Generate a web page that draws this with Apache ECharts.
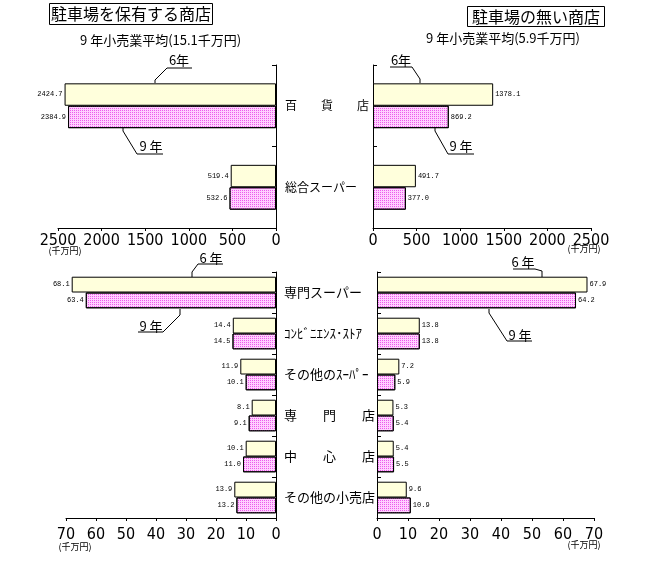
<!DOCTYPE html>
<html lang="ja">
<head>
    <meta charset="utf-8">
    <title>駐車場の有無別 年間販売額</title>
    <script src="https://cdn.jsdelivr.net/npm/echarts@6/dist/echarts.min.js"></script>
    <style type="text/css">
        html, body {
            margin: 0;
            padding: 0;
            background: #ffffff;
        }

        #main {
            width: 650px;
            height: 563px;
        }
    </style>
</head>
<body>
<div id="main"></div>
<script type="text/javascript">
    // 業態（上段：百貨店・総合スーパー / 下段：その他）
    const topCats = ['百　　貨　　店', '総合スーパー'];
    const bottomCats = ['専門スーパー', 'ｺﾝﾋﾞﾆｴﾝｽ･ｽﾄｱ', 'その他のｽｰﾊﾟｰ', '専　　門　　店', '中　　心　　店', 'その他の小売店'];

    // 駐車場を保有する商店（千万円）
    const parkTop6 = [2424.7, 519.4];
    const parkTop9 = [2384.9, 532.6];
    const parkBottom6 = [68.1, 14.4, 11.9, 8.1, 10.1, 13.9];
    const parkBottom9 = [63.4, 14.5, 10.1, 9.1, 11.0, 13.2];

    // 駐車場の無い商店（千万円）
    const noParkTop6 = [1378.1, 491.7];
    const noParkTop9 = [869.2, 377.0];
    const noParkBottom6 = [67.9, 13.8, 7.2, 5.3, 5.4, 9.6];
    const noParkBottom9 = [64.2, 13.8, 5.9, 5.4, 5.5, 10.9];

    const seriesNames = ['6年', '9年'];
    const topTicks = {min: 0, max: 2500, interval: 500};
    const bottomTicks = {min: 0, max: 70, interval: 10};

    const JP = "'Noto Sans CJK JP', sans-serif";
    const NARROW = "'Liberation Sans Narrow', 'DejaVu Sans Condensed', sans-serif";
    const MONO = "'Liberation Mono', 'DejaVu Sans Mono', monospace";
    // 網掛け風の塗り（6年は淡い黄色、9年はピンクの網点）
    const fill6 = {color: '#ffffdc', decal: null};
    const fill9 = {color: '#ffd0ff', decal: '#ec5cec'};

    let myChart = echarts.init(document.getElementById('main'));

    function xAxisOf(gridIndex, ticks, inverse, margin) {
        return {
            type: 'value',
            gridIndex: gridIndex,
            min: ticks.min,
            max: ticks.max,
            interval: ticks.interval,
            inverse: inverse,
            splitLine: {show: false},
            axisLine: {show: true, lineStyle: {color: '#000', width: 1}},
            axisTick: {show: true, length: 3, lineStyle: {color: '#000'}},
            axisLabel: {
                color: '#000', fontSize: 16, fontFamily: NARROW, margin: margin,
                formatter: function (v) {
                    return String(v);
                }
            }
        };
    }

    function yAxisOf(gridIndex, cats, showLabel, margin, fontSize) {
        return {
            type: 'category',
            gridIndex: gridIndex,
            data: cats,
            inverse: true,
            position: showLabel ? 'right' : 'left',
            axisLine: {show: true, lineStyle: {color: '#000', width: 1}},
            axisTick: {show: true, inside: true, length: 4, lineStyle: {color: '#000'}},
            axisLabel: {
                show: showLabel,
                color: '#000',
                fontSize: fontSize,
                fontFamily: JP,
                align: 'left',
                margin: margin
            }
        };
    }

    function barsOf(gridIndex, data6, data9, side, gap) {
        let list = [];
        [data6, data9].forEach(function (d, i) {
            let fill = i === 0 ? fill6 : fill9;
            let style = {color: fill.color, borderColor: '#000', borderWidth: 1};
            if (fill.decal) {
                style.decal = {
                    symbol: 'rect',
                    symbolSize: 1,
                    color: fill.decal,
                    dashArrayX: [1, 1],
                    dashArrayY: [1, 1],
                    rotation: 0
                };
            }
            list.push({
                name: seriesNames[i],
                type: 'bar',
                xAxisIndex: gridIndex,
                yAxisIndex: gridIndex,
                data: d,
                barGap: '0%',
                barCategoryGap: gap,
                itemStyle: style,
                label: {
                    show: true,
                    position: side,
                    distance: 2,
                    color: '#000',
                    fontSize: 7,
                    fontFamily: MONO,
                    formatter: function (p) {
                        return p.value.toFixed(1);
                    }
                },
                emphasis: {disabled: true},
                animation: false
            });
        });
        return list;
    }

    // 注記（6年・9年の引き出し線）
    function callout(text, tx, ty, pts) {
        return [
            {
                type: 'text',
                style: {text: text, x: tx, y: ty, fontSize: 13, fontFamily: JP, fill: '#000',
                    textAlign: 'center', textVerticalAlign: 'middle'}
            },
            {
                type: 'polyline',
                shape: {points: pts},
                style: {stroke: '#000', lineWidth: 1, fill: null}
            }
        ];
    }

    function unitText(x, y) {
        return {
            type: 'text',
            style: {text: '(千万円)', x: x, y: y, fontSize: 9, fontFamily: JP, fill: '#000',
                textAlign: 'center', textVerticalAlign: 'middle'}
        };
    }

    let graphics = [].concat(
        callout('6年', 179, 60, [[192, 68], [167, 68], [155, 80], [155, 83]]),
        callout('9 年', 151, 146, [[163, 154], [137, 154], [123, 131], [123, 128]]),
        callout('6年', 401, 60, [[390, 67], [412, 67], [420, 79], [420, 83]]),
        callout('9 年', 461, 146, [[474, 154], [448, 154], [435, 131], [435, 128]]),
        callout('6 年', 211, 258, [[223, 264], [198, 264], [192, 272], [192, 277]]),
        callout('9 年', 151, 326, [[138, 332], [163, 332], [180, 315], [180, 309]]),
        callout('6 年', 523, 262, [[513, 269], [535, 269], [542, 271], [542, 277]]),
        callout('9 年', 520, 335, [[532, 341], [507, 341], [489, 313], [489, 309]]),
        [unitText(65, 251), unitText(584, 249), unitText(75, 547), unitText(584, 545)]
    );

    let option = {
        backgroundColor: '#ffffff',
        animation: false,
        title: [
            {
                text: '駐車場を保有する商店', left: 49, top: 3,
                borderColor: '#000', borderWidth: 1, padding: [1, 2],
                textStyle: {fontSize: 16, fontWeight: 'normal', fontFamily: JP, color: '#000', lineHeight: 20}
            },
            {
                text: '駐車場の無い商店', left: 467, top: 6,
                borderColor: '#000', borderWidth: 1, padding: [1, 5],
                textStyle: {fontSize: 16, fontWeight: 'normal', fontFamily: JP, color: '#000', lineHeight: 19}
            },
            {
                text: '9 年小売業平均(15.1千万円)', left: 80, top: 34,
                textStyle: {fontSize: 13, fontWeight: 'normal', fontFamily: JP, color: '#000'}, padding: 0
            },
            {
                text: '9 年小売業平均(5.9千万円)', left: 426, top: 32,
                textStyle: {fontSize: 13, fontWeight: 'normal', fontFamily: JP, color: '#000'}, padding: 0
            }
        ],
        grid: [
            {left: 58, right: 374, top: 65, height: 163},
            {left: 373, right: 59, top: 65, height: 163},
            {left: 66, right: 374, top: 272, height: 246},
            {left: 377, right: 56, top: 272, height: 246}
        ],
        xAxis: [
            xAxisOf(0, topTicks, true, 5),
            xAxisOf(1, topTicks, false, 5),
            xAxisOf(2, bottomTicks, true, 9),
            xAxisOf(3, bottomTicks, false, 9)
        ],
        yAxis: [
            yAxisOf(0, topCats, true, 9, 12),
            yAxisOf(1, topCats, false, 0, 12),
            yAxisOf(2, bottomCats, true, 8, 13),
            yAxisOf(3, bottomCats, false, 0, 13)
        ],
        series: [].concat(
            barsOf(0, parkTop6, parkTop9, 'left', '45%'),
            barsOf(1, noParkTop6, noParkTop9, 'right', '45%'),
            barsOf(2, parkBottom6, parkBottom9, 'left', '23%'),
            barsOf(3, noParkBottom6, noParkBottom9, 'right', '23%')
        ),
        graphic: graphics
    };

    myChart.setOption(option);
</script>
</body>
</html>
